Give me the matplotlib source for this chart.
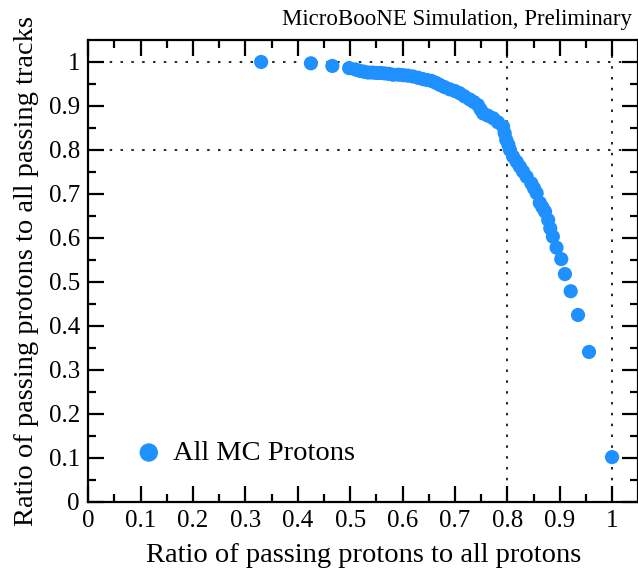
import numpy as np
import matplotlib
matplotlib.use("Agg")
import matplotlib.pyplot as plt

# efficiency (x) vs purity (y)
eff = [0.330, 0.425, 0.466, 0.498, 0.510, 0.518, 0.526, 0.534, 0.542, 0.550,
       0.558, 0.566, 0.574, 0.582, 0.592, 0.601, 0.610, 0.620, 0.630, 0.639,
       0.647, 0.655, 0.663, 0.671, 0.680, 0.690, 0.700, 0.709, 0.718, 0.728,
       0.736, 0.744, 0.749, 0.754, 0.763, 0.773, 0.782, 0.792, 0.795, 0.798,
       0.802, 0.805, 0.811, 0.818, 0.824, 0.830, 0.837, 0.846, 0.851, 0.856,
       0.862, 0.867, 0.872, 0.878, 0.882, 0.887, 0.894, 0.903, 0.910, 0.921,
       0.935, 0.956, 1.000]
pur = [1.000, 0.997, 0.991, 0.986, 0.983, 0.980, 0.978, 0.976, 0.976, 0.975,
       0.975, 0.974, 0.973, 0.971, 0.971, 0.970, 0.969, 0.967, 0.964, 0.961,
       0.959, 0.957, 0.953, 0.948, 0.943, 0.938, 0.934, 0.929, 0.922, 0.915,
       0.909, 0.902, 0.892, 0.883, 0.878, 0.872, 0.863, 0.853, 0.838, 0.823,
       0.812, 0.800, 0.785, 0.773, 0.762, 0.751, 0.739, 0.724, 0.713, 0.702,
       0.680, 0.670, 0.660, 0.641, 0.622, 0.603, 0.578, 0.552, 0.518, 0.479,
       0.425, 0.341, 0.102]

plt.rcParams['font.family'] = ['Liberation Serif', 'DejaVu Serif']

fig = plt.figure(figsize=(6.38, 5.76), dpi=100)
ax = fig.add_axes([0.1384, 0.1285, 0.862, 0.8021])

for v in [0.8, 1.0]:
    ax.axhline(v, color='black', lw=1.2, ls=(0, (1.5, 5)), zorder=1)
    ax.axvline(v, color='black', lw=1.2, ls=(0, (1.5, 5)), zorder=1)

ax.scatter(eff, pur, s=104, color='dodgerblue', edgecolors='none', zorder=3,
           label='All MC Protons')

ax.set_xlim(0, 1.05)
ax.set_ylim(0, 1.05)
ax.set_xticks(np.arange(0, 1.01, 0.1))
ax.set_yticks(np.arange(0, 1.01, 0.1))
ax.set_xticks(np.arange(0.05, 1.05, 0.1), minor=True)
ax.set_yticks(np.arange(0.05, 1.05, 0.1), minor=True)
ticklabels = ['0', '0.1', '0.2', '0.3', '0.4', '0.5', '0.6', '0.7', '0.8', '0.9', '1']
ax.set_xticklabels(ticklabels)
ax.set_yticklabels(ticklabels)
ax.tick_params(which='both', direction='in', top=True, right=True,
               width=1.6, labelsize=18)
ax.tick_params(which='major', length=11.5)
ax.tick_params(which='minor', length=6)
ax.tick_params(axis='x', pad=6)
ax.tick_params(axis='y', pad=6)
for sp in ax.spines.values():
    sp.set_linewidth(1.6)

ax.set_xlabel('Ratio of passing protons to all protons', fontsize=20.5, labelpad=7.5)
ax.set_ylabel('Ratio of passing protons to all passing tracks', fontsize=20.5, labelpad=7)
ax.text(0.9885, 1.032, 'MicroBooNE Simulation, Preliminary', transform=ax.transAxes,
        ha='right', va='baseline', fontsize=16.5)

ax.legend(loc='center left', bbox_to_anchor=(0.0634, 0.106), frameon=False,
          fontsize=20.5, handlelength=1.0, handletextpad=0.36, borderaxespad=0,
          scatterpoints=1, markerscale=1.3)

fig.savefig('out.png', dpi=100)
